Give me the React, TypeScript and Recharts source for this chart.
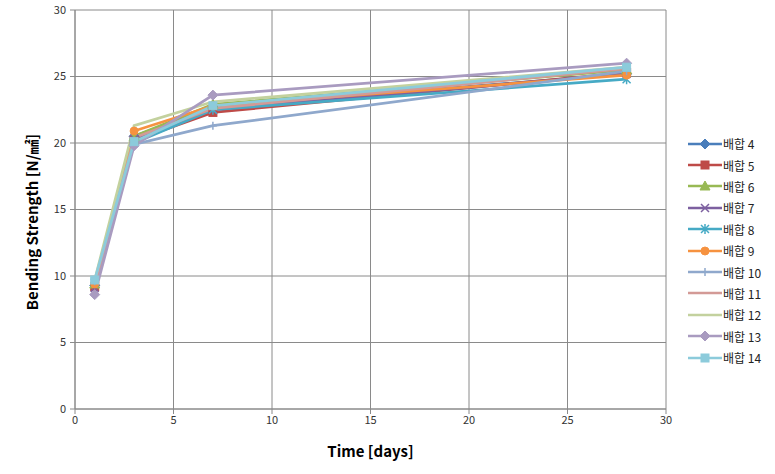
import React from 'react';
import { LineChart, Line, XAxis, YAxis, CartesianGrid, Legend } from 'recharts';

const days = [1, 3, 7, 28];
const seriesNames = ['배합 4', '배합 5', '배합 6', '배합 7', '배합 8', '배합 9', '배합 10', '배합 11', '배합 12', '배합 13', '배합 14'];
const s4 = [9.3, 20.5, 22.7, 25.2];
const s5 = [9.2, 20.2, 22.3, 25.3];
const s6 = [9.4, 20.5, 22.9, 25.5];
const s7 = [9.1, 20.3, 22.5, 25.2];
const s8 = [9.5, 20.0, 22.5, 24.8];
const s9 = [9.4, 20.9, 22.8, 25.1];
const s10 = [9.6, 19.9, 21.3, 25.4];
const s11 = [9.2, 20.4, 22.6, 25.6];
const s12 = [9.7, 21.3, 23.1, 25.7];
const s13 = [8.6, 19.8, 23.6, 26.0];
const s14 = [9.7, 20.1, 22.8, 25.7];
const seriesValues = [s4, s5, s6, s7, s8, s9, s10, s11, s12, s13, s14];
const colors = ['#4A7EBB', '#BE4B48', '#98B954', '#7D60A0', '#46AAC5', '#F69240', '#8FA8CC', '#D39A96', '#C3D19E', '#A99BC0', '#8CCBDB'];
const markers = ['diamond', 'square', 'triangle', 'x', 'star', 'circle', 'plus', 'none', 'none', 'diamond', 'square'];
const xTicks = [0, 5, 10, 15, 20, 25, 30];
const yTicks = [0, 5, 10, 15, 20, 25, 30];

const data = days.map((d, i) => {
  const row: any = { day: d };
  seriesNames.forEach((n, k) => { row[n] = seriesValues[k][i]; });
  return row;
});

function Marker({ type, cx, cy, color }: { type: string; cx: number; cy: number; color: string }) {
  const r = 4;
  switch (type) {
    case 'diamond':
      return <polygon points={`${cx},${cy - r - 1} ${cx + r + 1},${cy} ${cx},${cy + r + 1} ${cx - r - 1},${cy}`} fill={color} stroke={color} />;
    case 'square':
      return <rect x={cx - r} y={cy - r} width={2 * r} height={2 * r} fill={color} stroke={color} />;
    case 'triangle':
      return <polygon points={`${cx},${cy - r - 1} ${cx + r + 1},${cy + r} ${cx - r - 1},${cy + r}`} fill={color} stroke={color} />;
    case 'circle':
      return <circle cx={cx} cy={cy} r={r} fill={color} stroke={color} />;
    case 'x':
      return <path d={`M${cx - r},${cy - r}L${cx + r},${cy + r}M${cx - r},${cy + r}L${cx + r},${cy - r}`} stroke={color} strokeWidth={1.5} fill="none" />;
    case 'plus':
      return <path d={`M${cx - r},${cy}L${cx + r},${cy}M${cx},${cy - r}L${cx},${cy + r}`} stroke={color} strokeWidth={1.5} fill="none" />;
    case 'star':
      return <path d={`M${cx - r},${cy - r}L${cx + r},${cy + r}M${cx - r},${cy + r}L${cx + r},${cy - r}M${cx},${cy - r - 1}L${cx},${cy + r + 1}`} stroke={color} strokeWidth={1.5} fill="none" />;
    default:
      return <g />;
  }
}

const renderLegend = () => (
  <div style={{ fontFamily: '"Noto Sans CJK KR", "Noto Sans", sans-serif', fontSize: 12, color: '#222' }}>
    {seriesNames.map((n, k) => (
      <div key={n} style={{ display: 'flex', alignItems: 'center', height: 21.4 }}>
        <svg width={34} height={12} style={{ overflow: 'visible' }}>
          <line x1={0} y1={6} x2={34} y2={6} stroke={colors[k]} strokeWidth={2.5} />
          <Marker type={markers[k]} cx={17} cy={6} color={colors[k]} />
        </svg>
        <span style={{ marginLeft: 1 }}>{n}</span>
      </div>
    ))}
  </div>
);

export default function App() {
  return (
    <div style={{ position: 'absolute', left: 0, top: 0, width: 775, height: 474, background: '#fff' }}>
      <LineChart width={775} height={474} data={data} margin={{ top: 10, right: 22, bottom: 0, left: 0 }} style={{ overflow: 'visible' }}>
        <CartesianGrid stroke="#8A8A8A" strokeWidth={1} />
        <XAxis
          dataKey="day"
          type="number"
          domain={[0, 30]}
          ticks={xTicks}
          height={65}
          stroke="#8A8A8A"
          tickSize={5}
          tick={{ fill: '#333', fontSize: 11, fontFamily: '"Noto Sans CJK KR", "Noto Sans", sans-serif' }}
          tickLine={{ stroke: '#8A8A8A' }}
          label={{ value: 'Time [days]', position: 'insideBottom', offset: 17, style: { fill: '#000', fontSize: 15, fontWeight: 'bold', fontFamily: '"Noto Sans CJK KR", "Noto Sans", sans-serif' } }}
        />
        <YAxis
          type="number"
          domain={[0, 30]}
          ticks={yTicks}
          width={75}
          stroke="#8A8A8A"
          tickSize={5}
          tickMargin={4}
          tick={{ fill: '#333', fontSize: 11, fontFamily: '"Noto Sans CJK KR", "Noto Sans", sans-serif' }}
          tickLine={{ stroke: '#8A8A8A' }}
          label={{
            content: () => (
              <text x={38} y={222} transform="rotate(-90 38 222)" textAnchor="middle" fill="#000" fontSize={15} fontWeight="bold" fontFamily='"Noto Sans CJK KR", "Noto Sans", sans-serif'>
                Bending Strength [N/㎟]
              </text>
            ),
          }}
        />
        <Legend layout="vertical" align="right" verticalAlign="top" content={renderLegend} wrapperStyle={{ left: 688, top: 133, width: 87 }} />
        {seriesNames.map((n, k) => (
          <Line
            key={n}
            dataKey={n}
            stroke={colors[k]}
            strokeWidth={2.75}
            isAnimationActive={false}
            dot={(p: any) => <Marker key={`${n}-${p.index}`} type={markers[k]} cx={p.cx} cy={p.cy} color={colors[k]} />}
            activeDot={false}
          />
        ))}
      </LineChart>
    </div>
  );
}
